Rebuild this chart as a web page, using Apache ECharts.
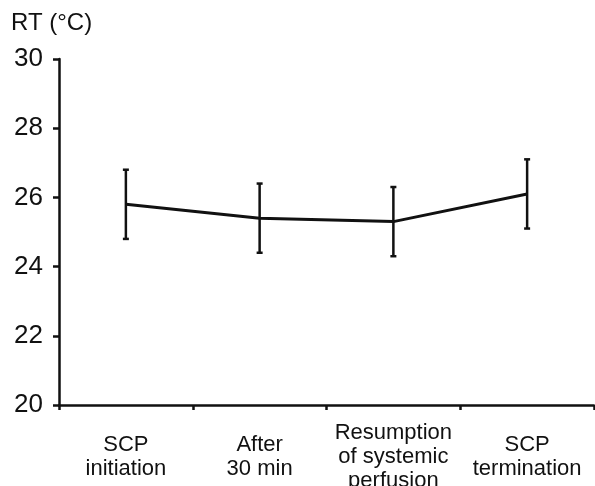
<!DOCTYPE html>
<html>
<head>
<meta charset="utf-8">
<script src="https://cdn.jsdelivr.net/npm/echarts@6/dist/echarts.min.js"></script>
<style>
  html, body { margin: 0; padding: 0; background: #fff; }
  #rtChart { width: 595px; height: 486px; }
</style>
</head>
<body>
<div id="rtChart"></div>
<script>
// time points and rectal temperature (mean with error bars)
var categories = ['SCP\ninitiation', 'After\n30 min', 'Resumption\nof systemic\nperfusion', 'SCP\ntermination'];
var meanRT = [25.8, 25.4, 25.3, 26.1];
var lowerRT = [24.8, 24.4, 24.3, 25.1];
var upperRT = [26.8, 26.4, 26.3, 27.1];
var yTicks = [20, 22, 24, 26, 28, 30];

var errData = categories.map(function (c, i) {
  return [i, lowerRT[i], upperRT[i]];
});

var font = 'Liberation Sans, Arial, sans-serif';
var chart = echarts.init(document.getElementById('rtChart'));

chart.setOption({
  backgroundColor: '#fff',
  animation: false,
  title: {
    text: 'RT (°C)',
    left: 11,
    top: 11,
    padding: 0,
    textStyle: { fontFamily: font, fontSize: 24, fontWeight: 'normal', color: '#111' }
  },
  grid: { left: 59, right: 1, top: 59, bottom: 81, containLabel: false, outerBoundsMode: 'none' },
  xAxis: {
    type: 'category',
    data: categories,
    axisLine: { lineStyle: { color: '#111', width: 2.5 } },
    axisTick: { show: true, length: 5, lineStyle: { color: '#111', width: 2.5 } },
    axisLabel: {
      fontFamily: font, fontSize: 22, color: '#111', lineHeight: 24,
      verticalAlign: 'middle', margin: 52, interval: 0, align: 'center'
    },
    splitLine: { show: false }
  },
  yAxis: {
    type: 'value',
    min: yTicks[0],
    max: yTicks[yTicks.length - 1],
    interval: 2,
    axisLine: { show: true, lineStyle: { color: '#111', width: 2.5 } },
    axisTick: { show: true, length: 6, lineStyle: { color: '#111', width: 2.5 } },
    axisLabel: { fontFamily: font, fontSize: 26, color: '#111', margin: 16 },
    splitLine: { show: false }
  },
  series: [{
    type: 'line',
    data: meanRT,
    symbol: 'none',
    lineStyle: { color: '#111', width: 3 },
    z: 3
  }, {
    type: 'custom',
    data: errData,
    z: 4,
    renderItem: function (params, api) {
      var x = api.value(0);
      var lo = api.coord([x, api.value(1)]);
      var hi = api.coord([x, api.value(2)]);
      var cap = 3;
      var style = { stroke: '#111', lineWidth: 2.5 };
      return {
        type: 'group',
        children: [
          { type: 'line', shape: { x1: lo[0], y1: lo[1], x2: hi[0], y2: hi[1] }, style: style },
          { type: 'line', shape: { x1: lo[0] - cap, y1: lo[1], x2: lo[0] + cap, y2: lo[1] }, style: style },
          { type: 'line', shape: { x1: hi[0] - cap, y1: hi[1], x2: hi[0] + cap, y2: hi[1] }, style: style }
        ]
      };
    }
  }]
});
</script>
</body>
</html>
